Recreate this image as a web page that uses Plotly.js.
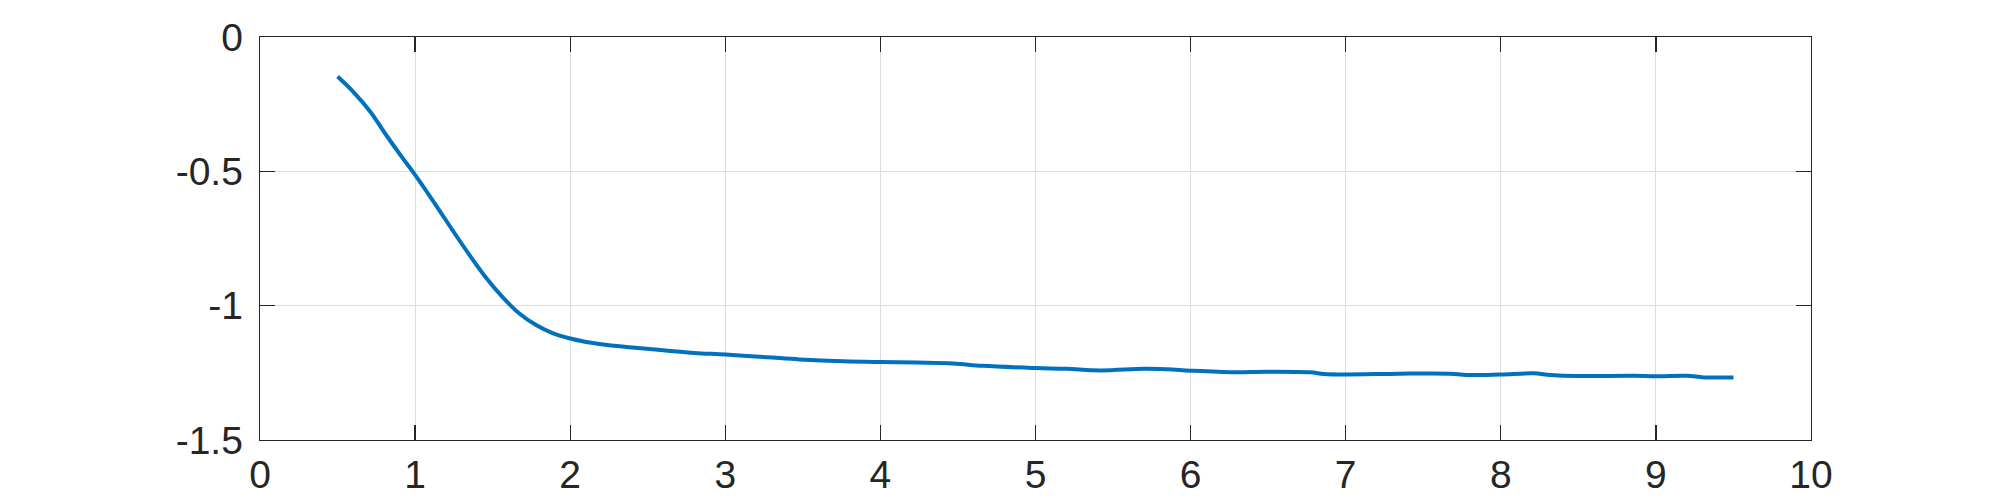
<!DOCTYPE html>
<html>
<head>
<meta charset="utf-8">
<script src="https://cdn.plot.ly/plotly-3.0.1.min.js"></script>
<style>html,body{margin:0;padding:0;background:#fff;}#chart{width:2000px;height:500px;}</style>
</head>
<body>
<div id="chart"></div>
<script>
const xValues = [0.5,0.6,0.71,0.81,0.92,1.0,1.14,1.24,1.35,1.46,1.57,1.67,1.78,1.89,2.0,2.2,2.4,2.6,2.8,3.0,3.27,3.48,3.76,4.0,4.23,4.47,4.66,5.0,5.2,5.42,5.7,5.85,6.0,6.28,6.49,6.77,6.86,7.0,7.35,7.67,7.78,8.0,8.21,8.32,8.49,8.86,9.0,9.2,9.31,9.5];
const yValues = [-0.147,-0.203,-0.277,-0.362,-0.451,-0.513,-0.631,-0.718,-0.811,-0.898,-0.972,-1.028,-1.072,-1.103,-1.122,-1.144,-1.156,-1.166,-1.176,-1.182,-1.192,-1.200,-1.207,-1.210,-1.212,-1.215,-1.224,-1.232,-1.235,-1.241,-1.235,-1.237,-1.242,-1.248,-1.246,-1.248,-1.254,-1.256,-1.253,-1.253,-1.258,-1.256,-1.252,-1.258,-1.262,-1.261,-1.263,-1.261,-1.267,-1.267];
const xTickVals = [0,1,2,3,4,5,6,7,8,9,10];
const xTickText = ['0','1','2','3','4','5','6','7','8','9','10'];
const yTickVals = [0,-0.5,-1,-1.5];
const yTickText = ['0','-0.5','-1','-1.5'];

const axisCommon = {
  showline: true, linecolor: '#262626', linewidth: 1.3, mirror: 'ticks',
  ticks: 'inside', ticklen: 15, tickwidth: 1.3, tickcolor: '#262626',
  showgrid: true, gridcolor: '#dcdcdc', gridwidth: 1, zeroline: false,
  tickfont: {family: 'Liberation Sans, Arial, sans-serif', size: 39, color: '#262626'}
};
const layout = {
  width: 2000, height: 500,
  margin: {l: 260, r: 189, t: 37, b: 60, pad: 0},
  paper_bgcolor: '#ffffff', plot_bgcolor: '#ffffff',
  showlegend: false,
  xaxis: Object.assign({}, axisCommon, {range: [0, 10], tickmode: 'array', tickvals: xTickVals, ticktext: xTickText, ticklabelstandoff: 0}),
  yaxis: Object.assign({}, axisCommon, {range: [-1.5, 0], tickmode: 'array', tickvals: yTickVals, ticktext: yTickText, ticklabelstandoff: 8})
};
const trace = {x: xValues, y: yValues, type: 'scatter', mode: 'lines', line: {color: '#0072BD', width: 4, shape: 'spline', smoothing: 1}, hoverinfo: 'none'};
Plotly.newPlot('chart', [trace], layout, {staticPlot: true});
</script>
</body>
</html>
